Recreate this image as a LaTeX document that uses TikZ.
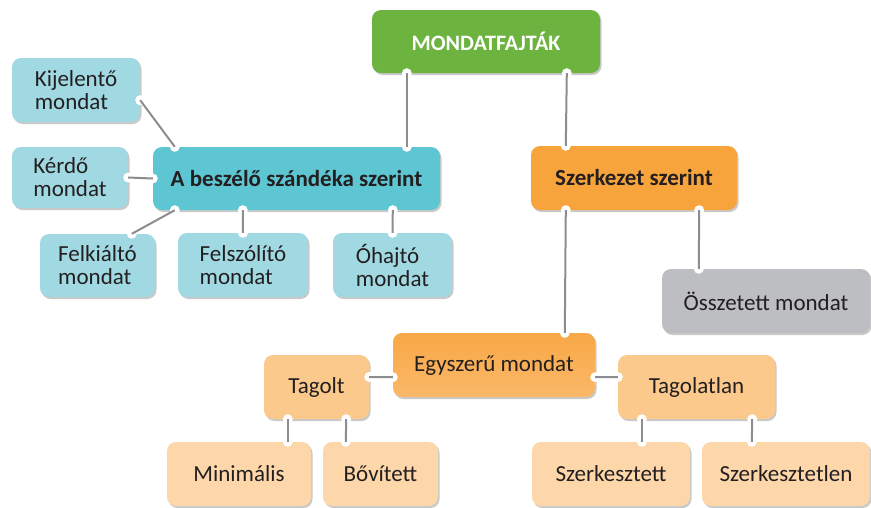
\documentclass[tikz,border=0pt]{standalone}
\usepackage{fontspec}
\setmainfont{Carlito}
\usetikzlibrary{shadows,calc}
\definecolor{ink}{HTML}{231F20}
\definecolor{zold}{HTML}{6CB33F}
\definecolor{turkiz}{HTML}{5EC6D3}
\definecolor{vilagkek}{HTML}{A1D9E3}
\definecolor{narancs}{HTML}{F8A43C}
\definecolor{barackfel}{HTML}{F8A845}
\definecolor{barackle}{HTML}{FBB86A}
\definecolor{halvany}{HTML}{FCC98C}
\definecolor{krem}{HTML}{FDD7A9}
\definecolor{szurke}{HTML}{BDBEC1}
\definecolor{vonal}{HTML}{8C8D90}
\def\betu{\fontsize{23}{23}\selectfont}

\begin{document}
\begin{tikzpicture}[x=1pt,y=-1pt,
    box/.style={rounded corners=9pt,inner sep=0pt,minimum height=64pt,align=left,
      text=ink,font=\betu,
      drop shadow={shadow xshift=1.5pt,shadow yshift=-2pt,opacity=.3,fill=black!70}},
    vastag/.style={font=\bfseries\betu},
    notch/.style={circle,fill=white,inner sep=0pt,minimum size=10pt},
    conn/.style={draw=vonal,line width=2pt}]
  \useasboundingbox (0,0) rectangle (871,507);

  \node[box,fill=zold,text=white,font=\bfseries\fontsize{22}{22}\selectfont,
    minimum width=228pt,minimum height=63pt] (fajta) at (486,41.5) {MONDATFAJTÁK};

  % a beszelo szandeka szerint
  \node[box,vastag,fill=turkiz,minimum width=287pt,minimum height=63pt] (beszel) at (296.5,178.5) {A beszélő szándéka szerint};
  \node[box,fill=vilagkek,minimum width=128pt] (kijel) at (76,90) {Kijelentő\\mondat};
  \node[box,fill=vilagkek,minimum width=116pt,minimum height=61pt] (kerdo) at (70,177.5) {Kérdő\\mondat};
  \node[box,fill=vilagkek,minimum width=115pt,minimum height=63pt] (felk) at (97.5,265.5) {Felkiáltó\\mondat};
  \node[box,fill=vilagkek,minimum width=130pt] (felsz) at (243,265) {Felszólító\\mondat};
  \node[box,fill=vilagkek,minimum width=119pt] (ohaj) at (392.5,265) {Óhajtó\\mondat};

  % szerkezet szerint
  \node[box,vastag,fill=narancs,minimum width=206pt] (szerk) at (634,178) {Szerkezet szerint};
  \node[box,fill=szurke,minimum width=208pt] (ossz) at (766,301) {Összetett mondat};
  \node[box,top color=barackfel,bottom color=barackle,minimum width=202pt] (egysz) at (494,365) {Egyszerű mondat};
  \node[box,fill=halvany,minimum width=105pt] (tagolt) at (316.5,387) {Tagolt};
  \node[box,fill=halvany,minimum width=157pt] (tagtlan) at (696.5,387) {Tagolatlan};
  \node[box,fill=krem,minimum width=144pt] (mini) at (239,474) {Minimális};
  \node[box,fill=krem,minimum width=115pt] (bov) at (380.5,474) {Bővített};
  \node[box,fill=krem,minimum width=158pt] (szerkt) at (611,474) {Szerkesztett};
  \node[box,fill=krem,minimum width=168pt] (szerkl) at (786,474) {Szerkesztetlen};

  % bevagasok
  \coordinate (f1) at ($(fajta.south west)+(35,0)$);
  \coordinate (f2) at ($(fajta.south west)+(195,0)$);
  \coordinate (b1) at ($(beszel.north west)+(254,0)$);
  \coordinate (b2) at ($(beszel.north west)+(22,0)$);
  \coordinate (b3) at (beszel.west);
  \coordinate (b4) at ($(beszel.south west)+(22,0)$);
  \coordinate (b5) at ($(beszel.south west)+(90,0)$);
  \coordinate (b6) at ($(beszel.south west)+(240,0)$);
  \coordinate (k1) at ($(kijel.south east)+(0,-22)$);
  \coordinate (k2) at (kerdo.east -| kerdo.east);
  \coordinate (k3) at ($(felk.north west)+(92,0)$);
  \coordinate (k4) at (felsz.north);
  \coordinate (k5) at (ohaj.north);
  \coordinate (s1) at ($(szerk.north west)+(35,0)$);
  \coordinate (s2) at ($(szerk.south west)+(35,0)$);
  \coordinate (s3) at ($(szerk.south east)+(-38,0)$);
  \coordinate (o1) at ($(ossz.north west)+(37,0)$);
  \coordinate (e1) at ($(egysz.north west)+(172,0)$);
  \coordinate (e2) at ($(egysz.south west)+(0,-20)$);
  \coordinate (e3) at ($(egysz.south east)+(0,-20)$);
  \coordinate (t1) at ($(tagolt.east)+(0,-10)$);
  \coordinate (t2) at ($(tagolt.south west)+(24,0)$);
  \coordinate (t3) at ($(tagolt.south east)+(-23,0)$);
  \coordinate (t4) at ($(tagtlan.west)+(0,-10)$);
  \coordinate (t5) at ($(tagtlan.south west)+(24,0)$);
  \coordinate (t6) at ($(tagtlan.south east)+(-23,0)$);
  \coordinate (m1) at ($(mini.north west)+(121,0)$);
  \coordinate (m2) at ($(bov.north west)+(23,0)$);
  \coordinate (m3) at ($(szerkt.north west)+(110,0)$);
  \coordinate (m4) at ($(szerkl.north west)+(50,0)$);
  \foreach \p in {f1,f2,b1,b2,b3,b4,b5,b6,k1,k2,k3,k4,k5,s1,s2,s3,o1,e1,e2,e3,t1,t2,t3,t4,t5,t6,m1,m2,m3,m4}
    \node[notch] at (\p) {};

  % vonalak
  \draw[conn] (f1) -- (b1);
  \draw[conn] (f2) -- (s1);
  \draw[conn] (k1) -- (b2);
  \draw[conn] (k2) -- (b3);
  \draw[conn] (b4) -- (k3);
  \draw[conn] (b5) -- (k4);
  \draw[conn] (b6) -- (k5);
  \draw[conn] (s2) -- (e1);
  \draw[conn] (s3) -- (o1);
  \draw[conn] (e2) -- (t1);
  \draw[conn] (e3) -- (t4);
  \draw[conn] (t2) -- (m1);
  \draw[conn] (t3) -- (m2);
  \draw[conn] (t5) -- (m3);
  \draw[conn] (t6) -- (m4);
\end{tikzpicture}
\end{document}
